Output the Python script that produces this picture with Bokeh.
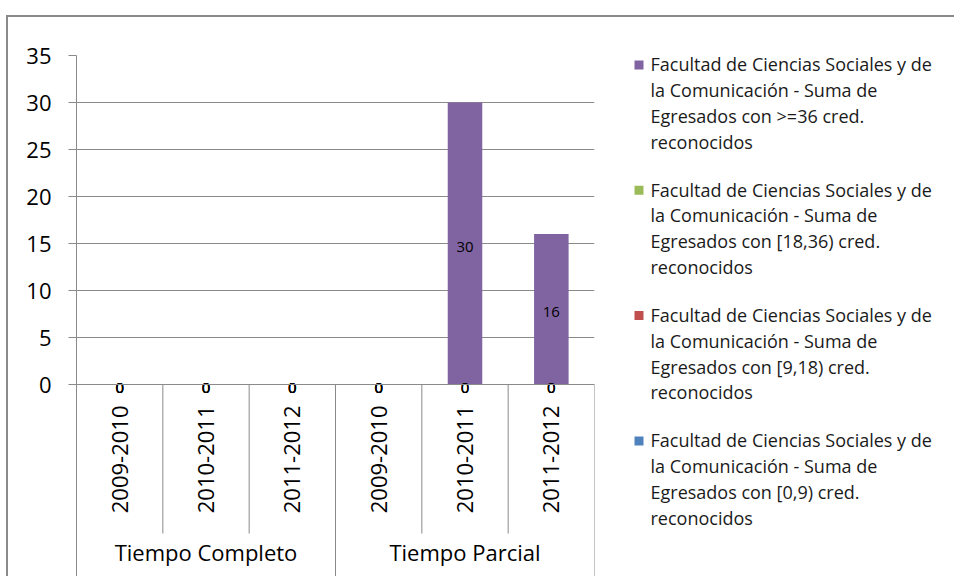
import math
from bokeh.plotting import figure
from bokeh.models import (FactorRange, Range1d, FixedTicker, ColumnDataSource)
from bokeh.layouts import row
from bokeh.embed import file_html
from bokeh.resources import INLINE
from bokeh.core.properties import value

# ---------------- data ----------------
groups = ["Tiempo Completo", "Tiempo Parcial"]
years = ["2009-2010", "2010-2011", "2011-2012"]

egresados_0_9 = [0, 0, 0, 0, 0, 0]
egresados_9_18 = [0, 0, 0, 0, 0, 0]
egresados_18_36 = [0, 0, 0, 0, 0, 0]
egresados_36 = [0, 0, 0, 0, 30, 16]

series_labels = [
    "Facultad de Ciencias Sociales y de\nla Comunicación - Suma de\nEgresados con [0,9) cred.\nreconocidos",
    "Facultad de Ciencias Sociales y de\nla Comunicación - Suma de\nEgresados con [9,18) cred.\nreconocidos",
    "Facultad de Ciencias Sociales y de\nla Comunicación - Suma de\nEgresados con [18,36) cred.\nreconocidos",
    "Facultad de Ciencias Sociales y de\nla Comunicación - Suma de\nEgresados con >=36 cred.\nreconocidos",
]
series_colors = ["#4F81BD", "#C0504D", "#9BBB59", "#8064A2"]
y_ticks = [0, 5, 10, 15, 20, 25, 30, 35]

# ---------------- geometry (page pixels) ----------------
CANVAS_X, CANVAS_Y = 8, 17
H = 559
FRAME_L, FRAME_R, FRAME_T, ZERO_Y = 76, 594, 55, 384
W_MAIN = FRAME_R + 2 - CANVAS_X
W_LEG = 946 - W_MAIN
px_per_unit = (ZERO_Y - FRAME_T) / 35.0
y_top = 35
y_bottom = -((CANVAS_Y + H) - ZERO_Y) / px_per_unit

FONT = "Open Sans"
GRAY = "#8a8a8a"

# ---------------- main chart ----------------
factors = [(g, y) for g in groups for y in years]
series_keys = ["s0", "s1", "s2", "s3"]
series_values = [egresados_0_9, egresados_9_18, egresados_18_36, egresados_36]

data = {"x": factors}
for k, v in zip(series_keys, series_values):
    data[k] = v
source = ColumnDataSource(data)

p = figure(
    x_range=FactorRange(*factors, range_padding=0, group_padding=0, factor_padding=0),
    y_range=Range1d(y_bottom, y_top),
    width=W_MAIN, height=H,
    output_backend="svg", toolbar_location=None,
    min_border_left=FRAME_L - CANVAS_X, min_border_top=FRAME_T - CANVAS_Y,
    min_border_bottom=0, min_border_right=2,
)
p.outline_line_color = None
p.background_fill_color = "white"
p.border_fill_color = "white"

renderers = p.vbar_stack(series_keys, x="x", width=0.4, source=source,
                         color=series_colors, line_color=None)

p.xgrid.visible = False
p.ygrid.ticker = FixedTicker(ticks=y_ticks)
p.ygrid.grid_line_color = GRAY
p.ygrid.grid_line_width = 1

ya = p.yaxis[0]
ya.ticker = FixedTicker(ticks=y_ticks)
ya.axis_line_color = GRAY
ya.major_tick_line_color = GRAY
ya.major_tick_out = 8
ya.major_tick_in = 0
ya.minor_tick_line_color = None
ya.major_label_standoff = 17
ya.major_label_text_font = FONT
ya.major_label_text_font_size = "22px"
ya.major_label_text_color = "black"

xa = p.xaxis[0]
xa.fixed_location = 0
xa.axis_line_color = GRAY
xa.major_tick_line_color = None
xa.major_tick_out = 0
xa.major_tick_in = 0
xa.minor_tick_line_color = None
xa.major_label_orientation = math.pi / 2
xa.major_label_standoff = 21
xa.major_label_text_font = FONT
xa.major_label_text_font_size = "22px"
xa.major_label_text_color = "black"
xa.group_label_orientation = "horizontal"
xa.group_text_font = FONT
xa.group_text_font_size = "22px"
xa.group_text_font_style = "normal"
xa.group_text_color = "black"
xa.separator_line_color = None

# category separators
sep_x = [(g, y, -0.5) for g in groups for y in years][1:] + [(groups[-1], years[-1], 0.5)]
sep_y1 = []
for (g, y, off) in sep_x:
    if (y == years[0] and off < 0) or off > 0:
        sep_y1.append(y_bottom)
    else:
        sep_y1.append(-(533 - ZERO_Y) / px_per_unit)
p.segment(x0=sep_x, y0=[0] * len(sep_x), x1=sep_x, y1=sep_y1, line_color=GRAY, line_width=1)

# data labels
lab_x, lab_y, lab_t = [], [], []
cum = [0] * len(factors)
for vals in series_values:
    for i, v in enumerate(vals):
        lab_x.append(factors[i])
        lab_y.append(cum[i] + v / 2.0)
        lab_t.append(str(v))
        cum[i] += v
p.text(x=lab_x, y=lab_y, text=lab_t, text_align="center", text_baseline="middle",
       y_offset=3, text_font=value(FONT), text_font_size="15px", text_color="black")

# ---------------- legend panel (coordinates = page pixels) ----------------
LEG_X0 = CANVAS_X + W_MAIN
lg = figure(width=W_LEG, height=H,
            x_range=Range1d(LEG_X0, LEG_X0 + W_LEG),
            y_range=Range1d(CANVAS_Y + H, FRAME_T),
            output_backend="svg", toolbar_location=None,
            x_axis_type=None, y_axis_type=None,
            min_border_left=0, min_border_right=0,
            min_border_top=FRAME_T - CANVAS_Y, min_border_bottom=0)
lg.outline_line_color = None
lg.xgrid.visible = False
lg.ygrid.visible = False
lg.background_fill_color = "white"
lg.border_fill_color = "white"

LINE_H = 25.3
ITEM_PITCH = 125.3
FIRST_LINE_Y = 64.5
order = [3, 2, 1, 0]
icon_y = [FIRST_LINE_Y + k * ITEM_PITCH for k in range(len(order))]
lg.rect(x=[638.5] * len(order), y=icon_y, width=9, height=9,
        color=[series_colors[i] for i in order], line_color=None)
lg.text(x=[650] * len(order), y=[yy - LINE_H / 2 for yy in icon_y],
        text=[series_labels[i] for i in order],
        text_align="left", text_baseline="top",
        text_font=value(FONT), text_font_size="18px", text_color="#1a1a1a",
        text_line_height=1.077)

layout = row(p, lg, margin=(15, 0, 0, 6),
             styles={"border-left": "2px solid #8a8a8a", "border-top": "2px solid #8a8a8a"})
open("out.html", "w").write(file_html(layout, INLINE))
